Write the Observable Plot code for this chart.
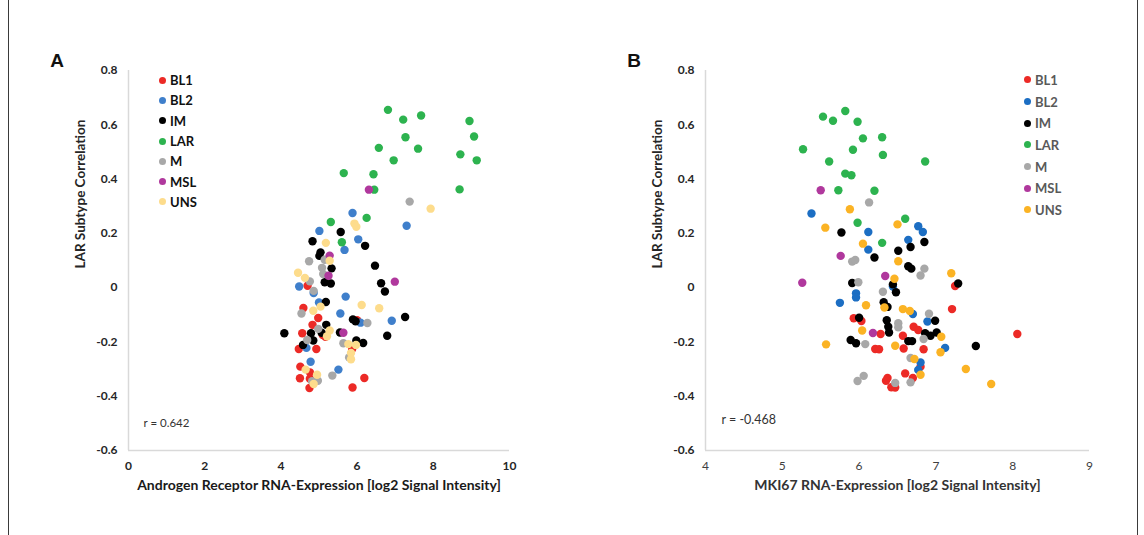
<!DOCTYPE html>
<html>
<head>
<meta charset="utf-8">
<script src="https://cdn.jsdelivr.net/npm/d3@7"></script>
<script src="https://cdn.jsdelivr.net/npm/@observablehq/plot@0.6"></script>
<style>
  html, body { margin: 0; padding: 0; background: #fff; }
  #root { position: relative; width: 1144px; height: 535px; overflow: hidden; font-family: Lato, "Open Sans", sans-serif; }
  .frame { position: absolute; left: 8px; top: 0; width: 1130px; height: 535px; box-sizing: border-box;
           border-left: 1.5px solid #3a3a3a; border-right: 1.5px solid #3a3a3a; }
  .panel { position: absolute; top: 0; width: 572px; height: 535px; }
  .panel svg { overflow: visible; }
  .tag { position: absolute; font: bold 19px Arial, "Liberation Sans", sans-serif; color: #111; transform: translate(-50%, -50%); }
  .legend { position: absolute; }
  .legend .row { display: flex; align-items: center; }
  .legend .sw { border-radius: 50%; flex: none; }
  #pA g[aria-label="x-axis tick label"] text, #pA g[aria-label="y-axis tick label"] text { font-weight: bold; fill: #262626; }
  #pA g[aria-label="x-axis label"] text { font-weight: bold; fill: #1a1a1a; font-size: 14px; }
  #pB g[aria-label="x-axis tick label"] text { font-weight: normal; fill: #404040; }
  #pB g[aria-label="y-axis tick label"] text { font-weight: bold; fill: #262626; }
  #pB g[aria-label="x-axis label"] text { font-weight: bold; fill: #333; font-size: 14px; }
</style>
</head>
<body>
<div id="root">
  <div class="frame"></div>
  <div class="panel" id="pA" style="left:0"></div>
  <div class="panel" id="pB" style="left:572px"></div>
</div>
<script>
// ---------- categories & colours ----------
const subtypes = ["BL1", "BL2", "IM", "LAR", "M", "MSL", "UNS"];
const colorsA = ["#ec2a26", "#3f7fcb", "#000000", "#2db34f", "#a8a8a8", "#b0389d", "#fddc8c"];
const colorsB = ["#ec2a26", "#1c6ec3", "#000000", "#2db34f", "#a8a8a8", "#b0389d", "#fbb324"];

// ---------- tick values ----------
const yTicks = [-0.6, -0.4, -0.2, 0, 0.2, 0.4, 0.6, 0.8];
const xTicksA = [0, 2, 4, 6, 8, 10];
const xTicksB = [4, 5, 6, 7, 8, 9];

// ---------- Panel A: Androgen Receptor expression vs LAR correlation ----------
const A_BL1 = [[4.70,0.007],[4.59,-0.075],[4.98,-0.112],[6.00,-0.120],[4.83,-0.137],[4.56,-0.168],[5.17,-0.181],[5.10,-0.175],
  [4.47,-0.226],[4.93,-0.226],[5.87,-0.226],[4.51,-0.291],[4.76,-0.312],[4.50,-0.334],[4.76,-0.336],[4.75,-0.370],[6.19,-0.333],[5.88,-0.368]];
const A_BL2 = [[5.88,0.275],[7.30,0.228],[5.01,0.209],[6.03,0.178],[5.67,0.139],[4.48,0.004],[4.86,-0.020],[5.70,-0.033],
  [5.00,-0.055],[5.56,-0.095],[6.91,-0.122],[6.09,-0.129],[4.67,-0.222],[4.78,-0.273],[5.51,-0.302]];
const A_IM = [[5.57,0.205],[4.83,0.171],[6.21,0.154],[5.04,0.130],[5.01,0.117],[6.47,0.081],[5.33,0.071],[5.15,0.020],[5.31,0.015],
  [6.63,0.016],[6.73,-0.014],[5.18,-0.053],[7.26,-0.108],[5.89,-0.117],[5.96,-0.124],[5.19,-0.137],[5.07,-0.166],[4.79,-0.168],
  [4.09,-0.168],[5.55,-0.165],[6.79,-0.177],[4.85,-0.195],[4.58,-0.211],[5.98,-0.195],[6.16,-0.204]];
const A_LAR = [[6.81,0.655],[7.21,0.619],[7.68,0.634],[8.95,0.614],[7.27,0.554],[9.07,0.557],[6.57,0.515],[7.60,0.512],[8.71,0.491],
  [6.96,0.469],[9.14,0.469],[5.65,0.422],[6.43,0.418],[6.45,0.361],[8.69,0.362],[6.25,0.257],[5.31,0.242],[5.60,0.167]];
const A_M = [[7.38,0.317],[5.15,0.103],[4.74,0.097],[5.08,0.073],[5.11,0.050],[4.76,0.023],[4.86,-0.012],[4.54,-0.095],[6.27,-0.130],
  [4.98,-0.152],[4.69,-0.193],[5.64,-0.205],[5.79,-0.257],[5.35,-0.324],[4.82,-0.345],[4.97,-0.343]];
const A_MSL = [[6.31,0.361],[5.28,0.118],[5.25,0.044],[6.99,0.022],[5.64,-0.166]];
const A_UNS = [[7.93,0.291],[5.93,0.236],[5.98,0.224],[5.18,0.165],[5.28,0.099],[4.45,0.055],[4.63,0.036],[6.12,-0.064],[6.58,-0.076],
  [5.04,-0.070],[4.85,-0.085],[5.28,-0.158],[5.21,-0.179],[5.77,-0.208],[5.97,-0.211],[5.84,-0.241],[5.84,-0.264],[4.65,-0.302],
  [4.95,-0.321],[4.86,-0.355]];

// ---------- Panel B: MKI67 expression vs LAR correlation ----------
const B_BL1 = [[7.25,0.006],[7.21,-0.079],[5.93,-0.113],[6.03,-0.123],[6.71,-0.144],[6.77,-0.156],[6.28,-0.171],[6.57,-0.177],[8.06,-0.171],
  [6.21,-0.226],[6.26,-0.227],[6.58,-0.224],[6.84,-0.227],[6.80,-0.291],[6.60,-0.316],[6.70,-0.333],[6.37,-0.333],[6.35,-0.343],
  [6.42,-0.367],[6.47,-0.368]];
const B_BL2 = [[5.38,0.273],[6.12,0.205],[6.77,0.226],[6.83,0.205],[6.64,0.176],[6.12,0.140],[6.44,0.004],[5.96,-0.021],[5.96,-0.036],
  [5.75,-0.056],[6.70,-0.097],[6.89,-0.125],[7.12,-0.222],[6.80,-0.276],[6.77,-0.303]];
const B_IM = [[5.77,0.203],[6.85,0.168],[6.67,0.150],[6.51,0.136],[6.20,0.111],[6.64,0.079],[6.68,0.070],[5.91,0.017],[6.44,0.012],
  [6.48,-0.017],[7.29,0.015],[6.32,-0.054],[6.37,-0.071],[6.00,-0.111],[6.36,-0.120],[6.99,-0.122],[6.38,-0.144],[6.39,-0.165],
  [6.86,-0.168],[6.93,-0.177],[7.01,-0.165],[5.89,-0.193],[5.96,-0.205],[6.64,-0.197],[6.69,-0.197],[7.52,-0.215]];
const B_LAR = [[5.53,0.630],[5.66,0.615],[5.82,0.651],[5.98,0.611],[6.05,0.550],[6.30,0.554],[5.27,0.510],[5.92,0.508],[6.31,0.489],
  [5.61,0.465],[6.86,0.465],[5.82,0.420],[5.90,0.414],[5.73,0.359],[6.20,0.357],[6.60,0.254],[5.98,0.239],[6.30,0.165]];
const B_M = [[6.13,0.314],[5.91,0.096],[5.95,0.102],[6.85,0.070],[6.80,0.045],[5.99,0.020],[6.31,-0.015],[6.91,-0.096],[6.51,-0.131],
  [6.51,-0.146],[6.84,-0.189],[6.08,-0.208],[6.67,-0.259],[6.06,-0.325],[5.98,-0.344],[6.47,-0.351],[6.67,-0.349]];
const B_MSL = [[5.50,0.359],[5.76,0.117],[6.34,0.043],[5.26,0.018],[6.18,-0.167]];
const B_UNS = [[5.88,0.289],[5.56,0.221],[6.50,0.233],[6.05,0.162],[6.51,0.097],[6.46,0.033],[7.20,0.053],[6.09,-0.065],[6.33,-0.073],
  [6.57,-0.079],[6.66,-0.086],[6.04,-0.158],[7.07,-0.181],[5.57,-0.209],[6.47,-0.214],[7.06,-0.238],[6.72,-0.263],[6.80,-0.321],
  [7.39,-0.300],[7.72,-0.355]];

// ---------- texts ----------
const titleXA = "Androgen Receptor RNA-Expression [log2 Signal Intensity]";
const titleXB = "MKI67 RNA-Expression [log2 Signal Intensity]";
const titleY = "LAR Subtype Correlation";
const rTextA = "r = 0.642";
const rTextB = "r = -0.468";

// ---------- build tables ----------
function table(series) {
  const rows = [];
  series.forEach((pts, i) => pts.forEach(([x, y]) => rows.push({x, y, g: subtypes[i]})));
  return rows;
}
const rowsA = table([A_BL1, A_BL2, A_IM, A_LAR, A_M, A_MSL, A_UNS]);
const rowsB = table([B_BL1, B_BL2, B_IM, B_LAR, B_M, B_MSL, B_UNS]);

const fmtY = d => d === 0 ? "0" : d.toFixed(1);

function panel(rows, xTicks, colors, xTitle, rText, opts) {
  const xDom = [xTicks[0], xTicks[xTicks.length - 1]];
  const yDom = [yTicks[0], yTicks[yTicks.length - 1]];
  return Plot.plot({
    width: 572, height: 535,
    marginLeft: opts.ml, marginRight: opts.mr, marginTop: 70, marginBottom: 85,
    style: {fontFamily: "Lato, 'Open Sans', sans-serif", fontSize: "12px", color: "#262626", background: "transparent"},
    x: {domain: xDom},
    y: {domain: yDom},
    color: {domain: subtypes, range: colors},
    marks: [
      Plot.ruleX([xDom[0]], {stroke: "#d9d9d9", strokeWidth: 1.5}),
      Plot.ruleY([yDom[0]], {stroke: "#d9d9d9", strokeWidth: 1.5}),
      Plot.axisX({ticks: xTicks, tickSize: 0, tickPadding: 11, tickFormat: d => String(d),
                  label: xTitle, labelAnchor: "center", labelArrow: false, labelOffset: 39}),
      Plot.axisY({ticks: yTicks, tickSize: 0, tickPadding: 11, tickFormat: fmtY, label: null}),
      Plot.text([titleY], {frameAnchor: "left", rotate: -90, dx: -48, dy: 8, text: d => d,
                           fontWeight: "bold", fontSize: 13.5, fill: "#262626"}),
      Plot.dot(rows, {x: "x", y: "y", fill: "g", r: 4.2}),
      Plot.text([rText], {frameAnchor: "bottom-left", dx: opts.rdx, dy: opts.rdy, text: d => d, textAnchor: "start",
                          fontSize: opts.rfs, fill: "#333"})
    ]
  });
}

document.getElementById("pA").appendChild(
  panel(rowsA, xTicksA, colorsA, titleXA, rTextA, {ml: 128, mr: 63, rdx: 15, rdy: -24, rfs: 11.5}));
document.getElementById("pB").appendChild(
  panel(rowsB, xTicksB, colorsB, titleXB, rTextB, {ml: 133, mr: 55, rdx: 16, rdy: -27, rfs: 12.5}));

// ---------- legends & panel tags ----------
function legend(left, top, rowH, colors, textColor, fs) {
  const div = document.createElement("div");
  div.className = "legend";
  div.style.left = left + "px";
  div.style.top = top + "px";
  subtypes.forEach((s, i) => {
    const row = document.createElement("div");
    row.className = "row";
    row.style.height = rowH + "px";
    const sw = document.createElement("span");
    sw.className = "sw";
    sw.style.width = "7px"; sw.style.height = "7px";
    sw.style.background = colors[i];
    const t = document.createElement("span");
    t.textContent = s;
    t.style.marginLeft = "4px";
    t.style.font = `bold ${fs}px Lato, 'Open Sans', sans-serif`;
    t.style.color = textColor;
    row.appendChild(sw); row.appendChild(t);
    div.appendChild(row);
  });
  document.getElementById("root").appendChild(div);
}
legend(159, 70, 20.3, colorsA, "#111", 13);
legend(1024, 69, 21.7, colorsB, "#595959", 13);

[["A", 57, 61], ["B", 634, 61]].forEach(([t, x, y]) => {
  const d = document.createElement("div");
  d.className = "tag";
  d.textContent = t;
  d.style.left = x + "px"; d.style.top = y + "px";
  document.getElementById("root").appendChild(d);
});
</script>
</body>
</html>
